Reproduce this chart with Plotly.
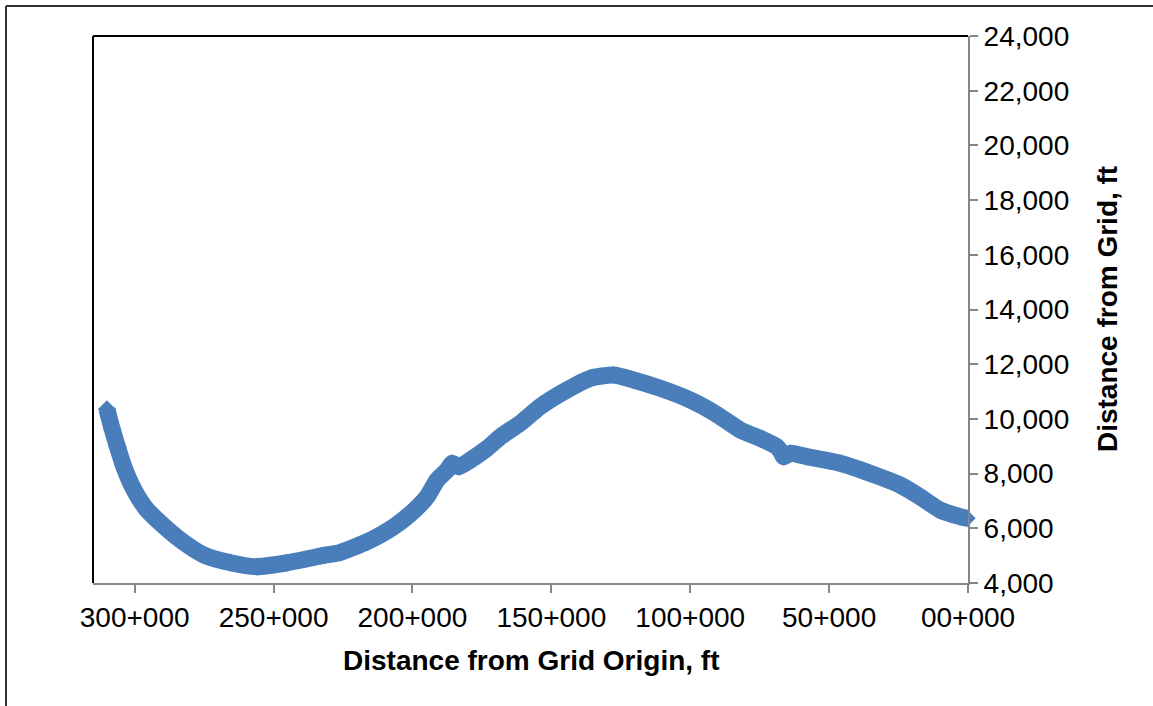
import plotly.graph_objects as go

# Station along the alignment (ft) and offset distance from the grid (ft)
station_ft = [
    310000, 308000, 306200, 303900, 300200, 296000, 290600, 283500, 275100,
    265500, 255900, 245100, 233100, 225900, 216300, 206700, 199000, 194700,
    191100, 187500, 185700, 183300, 179100, 173100, 168300, 161200, 154000,
    144400, 136000, 127600, 120400, 110800, 100000, 91000, 82000, 74800,
    68800, 67000, 66400, 64000, 58000, 46000, 35300, 24500, 17300, 10100,
    2900, 500,
]
offset_ft = [
    10350, 9594, 8983, 8252, 7400, 6731, 6183, 5572, 5024,
    4742, 4596, 4740, 4987, 5122, 5510, 6058, 6690, 7155,
    7766, 8131, 8376, 8252, 8497, 8925, 9349, 9839, 10450,
    11056, 11484, 11605, 11422, 11118, 10690, 10200, 9594, 9290,
    8983, 8742, 8618, 8742, 8618, 8376, 8011, 7583, 7155, 6669,
    6424, 6365,
]

x_tick_vals = [300000, 250000, 200000, 150000, 100000, 50000, 0]
x_tick_text = ["300+000", "250+000", "200+000", "150+000", "100+000", "50+000", "00+000"]
y_tick_vals = list(range(4000, 24001, 2000))

BLUE = "#4A7EBB"
AXIS_GREY = "#868686"
FONT = "Liberation Sans, Arial, sans-serif"

fig = go.Figure()
fig.add_trace(go.Scatter(
    x=station_ft,
    y=offset_ft,
    mode="lines+markers",
    line=dict(color=BLUE, width=17, shape="spline", smoothing=0.6),
    marker=dict(symbol="diamond", size=14, color=BLUE),
    showlegend=False,
    cliponaxis=False,
))

fig.update_layout(
    width=1153,
    height=706,
    margin=dict(l=93, r=185, t=36, b=123),
    paper_bgcolor="white",
    plot_bgcolor="white",
    font=dict(family=FONT, color="black", size=28),
    xaxis=dict(
        range=[315000, 0],
        tickvals=x_tick_vals,
        ticktext=x_tick_text,
        showgrid=False,
        zeroline=False,
        showline=True,
        linecolor=AXIS_GREY,
        linewidth=2,
        ticks="outside",
        ticklen=8,
        tickwidth=2,
        tickcolor=AXIS_GREY,
        tickfont=dict(size=28),
    ),
    yaxis=dict(
        range=[4000, 24000],
        side="right",
        tickvals=y_tick_vals,
        tickformat=",d",
        showgrid=False,
        zeroline=False,
        showline=True,
        linecolor=AXIS_GREY,
        linewidth=2,
        ticks="outside",
        ticklen=8,
        tickwidth=2,
        tickcolor=AXIS_GREY,
        tickfont=dict(size=28),
    ),
    annotations=[
        dict(
            text="<b>Distance from Grid Origin, ft</b>",
            xref="paper", yref="paper", x=0.5, y=-0.141,
            xanchor="center", yanchor="middle", showarrow=False,
            font=dict(size=28),
        ),
        dict(
            text="<b>Distance from Grid, ft</b>",
            xref="paper", yref="paper", x=1.1595, y=0.5,
            xanchor="center", yanchor="middle", showarrow=False,
            textangle=-90, font=dict(size=28),
        ),
    ],
    shapes=[
        # black frame on the left and top of the plot area
        dict(type="line", xref="paper", yref="paper", x0=0, x1=0, y0=0, y1=1,
             line=dict(color="black", width=2)),
        dict(type="line", xref="paper", yref="paper", x0=0, x1=1, y0=1, y1=1,
             line=dict(color="black", width=2)),
        # outer chart border (left and top edges)
        dict(type="line", xref="paper", yref="paper",
             x0=-87.0 / 875, x1=-87.0 / 875, y0=-125.0 / 547, y1=30.0 / 547 + 1,
             line=dict(color="#333333", width=2)),
        dict(type="line", xref="paper", yref="paper",
             x0=-87.0 / 875, x1=1 + 190.0 / 875, y0=30.0 / 547 + 1, y1=30.0 / 547 + 1,
             line=dict(color="#333333", width=2)),
    ],
)

fig.write_html("out.html")
